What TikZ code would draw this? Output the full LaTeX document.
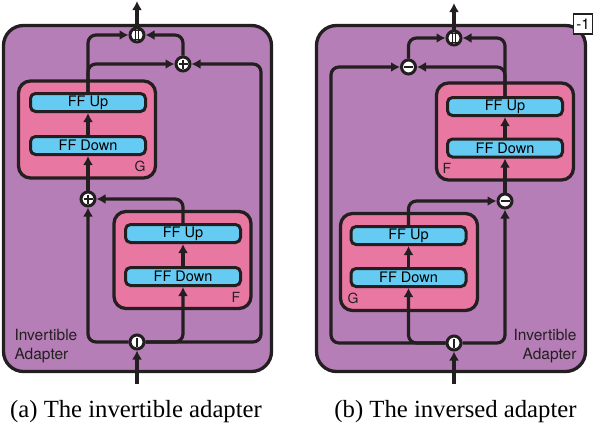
\documentclass[tikz,border=0pt]{standalone}
\usepackage{fontspec}
\setmainfont{Liberation Serif}
\setsansfont{TeX Gyre Heros}
\usepackage{tikz}
\usetikzlibrary{arrows.meta}
\definecolor{adapterpurple}{RGB}{181,126,182}
\definecolor{netpink}{RGB}{232,119,161}
\definecolor{ffblue}{RGB}{102,203,242}
\definecolor{inkdark}{RGB}{35,31,32}
\tikzset{
  adapter_box/.style = {draw=inkdark, fill=adapterpurple, line width=3.3pt,
    rounded corners=20pt},% grand bloc adapter
  sub_net/.style = {draw=inkdark, fill=netpink, line width=3.3pt,
    rounded corners=12pt, minimum width=137pt, minimum height=97pt},% F ou G
  ff_block/.style = {draw=inkdark, fill=ffblue, line width=3pt,
    rounded corners=5pt, minimum width=115pt, minimum height=18pt,
    inner sep=0pt, font=\sffamily\fontsize{14.5}{16}\selectfont},
  op_node/.style = {circle, draw=inkdark, fill=white, line width=3pt,
    minimum size=14pt, inner sep=0pt},
  plus_node/.style = {op_node, path picture={
    \draw[inkdark, line width=1.8pt]
      ([xshift=-4.5pt]path picture bounding box.center) -- ([xshift=4.5pt]path picture bounding box.center)
      ([yshift=-4.5pt]path picture bounding box.center) -- ([yshift=4.5pt]path picture bounding box.center);}},
  minus_node/.style = {op_node, path picture={
    \draw[inkdark, line width=2.2pt]
      ([xshift=-4.5pt]path picture bounding box.center) -- ([xshift=4.5pt]path picture bounding box.center);}},
  split_node/.style = {op_node, path picture={
    \draw[inkdark, line width=2.2pt]
      ([yshift=-4.5pt]path picture bounding box.center) -- ([yshift=4.5pt]path picture bounding box.center);}},
  concat_node/.style = {op_node, path picture={
    \draw[inkdark, line width=1.3pt]
      ([xshift=-1.8pt,yshift=-4pt]path picture bounding box.center) -- ([xshift=-1.8pt,yshift=4pt]path picture bounding box.center)
      ([xshift=1.8pt,yshift=-4pt]path picture bounding box.center) -- ([xshift=1.8pt,yshift=4pt]path picture bounding box.center)
      ([xshift=-3.5pt,yshift=-4.5pt]path picture bounding box.center) -- ([xshift=3.5pt,yshift=-4.5pt]path picture bounding box.center)
      ([xshift=-3.5pt,yshift=4.5pt]path picture bounding box.center) -- ([xshift=3.5pt,yshift=4.5pt]path picture bounding box.center);}},
  flow/.style = {draw=inkdark, line width=3.2pt, rounded corners=8pt,
    -{Latex[length=9pt,width=10pt]}},
  net_label/.style = {inkdark, font=\sffamily\fontsize{14}{16}\selectfont},
  box_label/.style = {inkdark, font=\sffamily\fontsize{15.5}{19}\selectfont},
  inv_tag/.style = {draw=inkdark, fill=white, line width=1.5pt, inner sep=0pt,
    minimum width=19pt, minimum height=20pt, font=\sffamily\fontsize{15}{16}\selectfont},
  sub_caption/.style = {anchor=base, font=\fontsize{24.7}{28}\selectfont}
}

\begin{document}
\begin{tikzpicture}[x=1pt, y=-1pt]
    \useasboundingbox (0,0) rectangle (594,426);

    % (a) invertible adapter
    \draw[adapter_box] (3.5,25.5) rectangle (271.5,371.5);
    \node[sub_net] (ga) at (87,129.5) {};
    \node[sub_net] (fa) at (182.5,260) {};
    \node[ff_block] (gupa) at (88,102.5) {FF Up};
    \node[ff_block] (gdna) at (88,145.5) {FF Down};
    \node[ff_block] (fupa) at (183,233.5) {FF Up};
    \node[ff_block] (fdna) at (183,276.5) {FF Down};
    \node[net_label] (glab_a) at (140,166) {G};
    \node[net_label] (flab_a) at (236,297) {F};
    \node[box_label, align=left, anchor=west] (alab_a) at (11,346.5) {Invertible\\Adapter};

    \node[concat_node] (ca) at (137,35) {};
    \node[plus_node] (pta) at (183,64) {};
    \node[plus_node] (pma) at (88,199) {};
    \node[split_node] (sa) at (137,342) {};
    \coordinate (ina) at (137,384);
    \coordinate (outa) at (137,1);
    \coordinate (ra) at (261,342);

    \draw[flow] (ina) -- (sa);
    \draw[flow] (sa.west) -| (pma.south);
    \draw[flow] (sa.east) -| (fdna.south);
    \draw[flow] (sa.east) -- (ra) |- (pta.east);
    \draw[flow] (fdna) -- (fupa);
    \draw[flow] (fupa.north) |- (pma.east);
    \draw[flow] (pma) -- (gdna);
    \draw[flow] (gdna) -- (gupa);
    \draw[flow] (gupa.north) |- (pta.west);
    \draw[flow] (gupa.north) |- (ca.west);
    \draw[flow] (pta.north) |- (ca.east);
    \draw[flow] (ca) -- (outa);

    % (b) inversed adapter
    \draw[adapter_box] (316.5,25.5) rectangle (585.5,371.5);
    \node[sub_net] (fb) at (505,131.5) {};
    \node[sub_net] (gb) at (409,262) {};
    \node[ff_block] (fupb) at (505,106.5) {FF Up};
    \node[ff_block] (fdnb) at (505,148) {FF Down};
    \node[ff_block] (gupb) at (408.5,235.5) {FF Up};
    \node[ff_block] (gdnb) at (408.5,277.5) {FF Down};
    \node[net_label] (flab_b) at (447,168) {F};
    \node[net_label] (glab_b) at (353,298) {G};
    \node[box_label, align=right, anchor=east] (alab_b) at (580,346.5) {Invertible\\Adapter};
    \node[inv_tag] (tag) at (583,24) {-1};

    \node[concat_node] (cb) at (454,38) {};
    \node[minus_node] (mtb) at (408.5,67) {};
    \node[minus_node] (mmb) at (505,201) {};
    \node[split_node] (sb) at (454,343) {};
    \coordinate (inb) at (454,384);
    \coordinate (outb) at (454,3);
    \coordinate (lb) at (331,343);

    \draw[flow] (inb) -- (sb);
    \draw[flow] (sb.east) -| (mmb.south);
    \draw[flow] (sb.west) -| (gdnb.south);
    \draw[flow] (sb.west) -- (lb) |- (mtb.west);
    \draw[flow] (gdnb) -- (gupb);
    \draw[flow] (gupb.north) |- (mmb.west);
    \draw[flow] (mmb) -- (fdnb);
    \draw[flow] (fdnb) -- (fupb);
    \draw[flow] (fupb.north) |- (mtb.east);
    \draw[flow] (fupb.north) |- (cb.east);
    \draw[flow] (mtb.north) |- (cb.west);
    \draw[flow] (cb) -- (outb);

    % captions
    \node[sub_caption] (cap_a) at (136,417) {(a) The invertible adapter};
    \node[sub_caption] (cap_b) at (455.5,417) {(b) The inversed adapter};
\end{tikzpicture}
\end{document}
